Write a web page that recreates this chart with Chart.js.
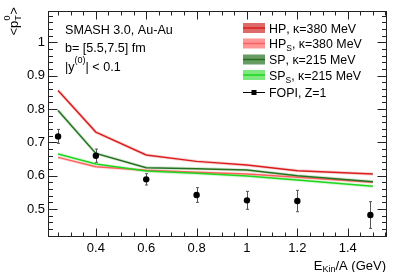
<!DOCTYPE html>
<html><head><meta charset="utf-8">
<script src="https://cdn.jsdelivr.net/npm/chart.js@4"></script>
<style>html,body{margin:0;padding:0;background:#fff;overflow:hidden}</style>
</head><body>
<div style="width:399px;height:272px;position:relative"><canvas id="c" width="399" height="272"></canvas></div>
<script>
const energies = [0.25, 0.4, 0.6, 0.8, 1.0, 1.2, 1.5];
const hp  = [0.856, 0.731, 0.662, 0.643, 0.632, 0.615, 0.605];
const hpS = [0.655, 0.627, 0.616, 0.610, 0.605, 0.595, 0.580];
const sp  = [0.796, 0.667, 0.624, 0.621, 0.617, 0.600, 0.582];
const spS = [0.665, 0.635, 0.614, 0.607, 0.599, 0.587, 0.568];
const fopiE   = [0.25, 0.4, 0.6, 0.8, 1.0, 1.2, 1.49];
const fopiPt  = [0.718, 0.660, 0.589, 0.542, 0.526, 0.524, 0.482];
const fopiErr = [0.021, 0.020, 0.017, 0.022, 0.027, 0.032, 0.040];
const xTicks = [0.4, 0.6, 0.8, 1.0, 1.2, 1.4];
const xTickLabels = ['0.4', '0.6', '0.8', '1', '1.2', '1.4'];
const yTicks = [0.5, 0.6, 0.7, 0.8, 0.9, 1.0];
const yTickLabels = ['0.5', '0.6', '0.7', '0.8', '0.9', '1'];
const legendNames = [['HP', '', ', \u03ba=380 MeV'], ['HP', 'S', ', \u03ba=380 MeV'], ['SP', '', ', \u03ba=215 MeV'], ['SP', 'S', ', \u03ba=215 MeV'], ['FOPI, Z=1', '', '']];

const FONT = '"Liberation Sans", Arial, Helvetica, sans-serif';
const lineCols = ['rgb(218,30,30)', 'rgb(255,95,95)', 'rgb(35,115,30)', 'rgb(30,215,30)'];
const haloCols = ['rgba(218,30,30,0.18)', 'rgba(255,95,95,0.18)', 'rgba(35,115,30,0.18)', 'rgba(30,215,30,0.18)'];
const boxCols = ['rgb(222,105,105)', 'rgb(255,150,150)', 'rgb(105,155,100)', 'rgb(125,232,125)'];
const series = [hp, hpS, sp, spS];

const pts = arr => arr.map((v, i) => ({x: energies[i], y: v}));
const datasets = [];
series.forEach((s, i) => {
  datasets.push({data: pts(s), borderColor: haloCols[i], borderWidth: 3.2, pointRadius: 0, fill: false, tension: 0, order: 10 + (4 - i)});
});
series.forEach((s, i) => {
  datasets.push({data: pts(s), borderColor: lineCols[i], borderWidth: 1.5, pointRadius: 0, fill: false, tension: 0, order: 5 + (4 - i)});
});
datasets.push({data: fopiE.map((e, i) => ({x: e, y: fopiPt[i]})), showLine: false, pointStyle: 'circle', pointRadius: 3.2, backgroundColor: '#000', borderColor: '#000', borderWidth: 0, order: 0});

const deco = {
  id: 'deco',
  beforeDatasetsDraw(chart) {
    const ctx = chart.ctx, xs = chart.scales.x, ys = chart.scales.y;
    ctx.save();
    ctx.strokeStyle = '#555'; ctx.lineWidth = 1;
    fopiE.forEach((e, i) => {
      const px = Math.round(xs.getPixelForValue(e)) + 0.5;
      const y1 = ys.getPixelForValue(fopiPt[i] + fopiErr[i]);
      const y2 = ys.getPixelForValue(fopiPt[i] - fopiErr[i]);
      ctx.beginPath(); ctx.moveTo(px, y1); ctx.lineTo(px, y2);
      ctx.moveTo(px - 1.5, y1); ctx.lineTo(px + 1.5, y1);
      ctx.moveTo(px - 1.5, y2); ctx.lineTo(px + 1.5, y2);
      ctx.stroke();
    });
    ctx.restore();
  },
  afterDraw(chart) {
    const ctx = chart.ctx, xs = chart.scales.x, ys = chart.scales.y, a = chart.chartArea;
    ctx.save();
    ctx.strokeStyle = '#222'; ctx.lineWidth = 1;
    const L = Math.round(a.left) + 0.5, R = Math.round(a.right) + 0.5, T = Math.round(a.top) + 0.5, B = Math.round(a.bottom) + 0.5;
    ctx.strokeRect(L, T, R - L, B - T);
    ctx.beginPath();
    for (let k = 0; k <= 30; k++) {
      const v = 0.20 + k * 0.05;
      if (v < xs.min - 1e-9 || v > xs.max + 1e-9) continue;
      const major = Math.abs(v * 5 - Math.round(v * 5)) < 1e-6;
      const len = major ? 8 : 4;
      const px = Math.round(xs.getPixelForValue(v)) + 0.5;
      ctx.moveTo(px, B); ctx.lineTo(px, B - len);
      ctx.moveTo(px, T); ctx.lineTo(px, T + len);
    }
    for (let k = 0; k <= 40; k++) {
      const v = 0.40 + k * 0.02;
      if (v < ys.min - 1e-9 || v > ys.max + 1e-9) continue;
      const major = Math.abs(v * 10 - Math.round(v * 10)) < 1e-6;
      const len = major ? 9 : 4.5;
      const py = Math.round(ys.getPixelForValue(v)) + 0.5;
      ctx.moveTo(L, py); ctx.lineTo(L + len, py);
      ctx.moveTo(R, py); ctx.lineTo(R - len, py);
    }
    ctx.stroke();

    ctx.fillStyle = '#000';
    ctx.textBaseline = 'alphabetic';
    ctx.font = '12.6px ' + FONT;
    ctx.fillText('SMASH 3.0, Au-Au', 65, 33.5);
    ctx.fillText('b= [5.5,7.5] fm', 65, 51.5);
    let x = 65;
    ctx.fillText('|y', x, 71); x += ctx.measureText('|y').width;
    ctx.font = '9px ' + FONT; ctx.fillText('(0)', x, 63); x += ctx.measureText('(0)').width;
    ctx.font = '12.6px ' + FONT; ctx.fillText('| < 0.1', x, 71);

    const ly = [28, 43.5, 59.5, 75, 92];
    for (let i = 0; i < 5; i++) {
      const y = ly[i];
      if (i < 4) {
        ctx.fillStyle = boxCols[i];
        ctx.fillRect(243, y - 5, 22, 10);
        ctx.strokeStyle = lineCols[i]; ctx.lineWidth = 1.5;
        ctx.beginPath(); ctx.moveTo(243, y); ctx.lineTo(265, y); ctx.stroke();
      } else {
        ctx.strokeStyle = '#000'; ctx.lineWidth = 1;
        ctx.beginPath(); ctx.moveTo(243, y + 0.5); ctx.lineTo(265, y + 0.5); ctx.stroke();
        ctx.fillStyle = '#000'; ctx.fillRect(251.5, y - 2, 5, 5);
      }
      ctx.fillStyle = '#000';
      let tx = 269;
      const n = legendNames[i];
      ctx.font = '12.4px ' + FONT; ctx.fillText(n[0], tx, y + 4.5); tx += ctx.measureText(n[0]).width;
      if (n[1]) { ctx.font = '8.5px ' + FONT; ctx.fillText(n[1], tx, y + 7.5); tx += ctx.measureText(n[1]).width; }
      ctx.font = '12.4px ' + FONT; ctx.fillText(n[2], tx, y + 4.5);
    }

    const main1 = 'E', sub = 'Kin', main2 = '/A (GeV)';
    ctx.font = '13px ' + FONT; const w1 = ctx.measureText(main1).width, w3 = ctx.measureText(main2).width;
    ctx.font = '9px ' + FONT; const w2 = ctx.measureText(sub).width;
    let xx = 386 - (w1 + w2 + w3);
    ctx.font = '13px ' + FONT; ctx.fillText(main1, xx, 269.5); xx += w1;
    ctx.font = '9px ' + FONT; ctx.fillText(sub, xx, 272); xx += w2;
    ctx.font = '13px ' + FONT; ctx.fillText(main2, xx, 269.5);

    ctx.save();
    ctx.translate(17.5, 35.5);
    ctx.rotate(-Math.PI / 2);
    let t = 0;
    ctx.font = '13px ' + FONT; ctx.fillText('<p', t, 0); t += ctx.measureText('<p').width;
    ctx.font = '9px ' + FONT;
    ctx.fillText('0', t + 0.3, -7.5);
    ctx.fillText('T', t, 3.5);
    t += Math.max(ctx.measureText('0').width, ctx.measureText('T').width) + 0.5;
    ctx.font = '13px ' + FONT; ctx.fillText('>', t, 0);
    ctx.restore();

    ctx.restore();
  }
};

new Chart(document.getElementById('c'), {
  type: 'line',
  data: {datasets},
  options: {
    responsive: false,
    animation: false,
    devicePixelRatio: 1,
    layout: {padding: {left: 0, right: 13, top: 10, bottom: 0}},
    plugins: {legend: {display: false}, tooltip: {enabled: false}},
    scales: {
      x: {
        type: 'linear', min: 0.21, max: 1.552,
        border: {display: false},
        grid: {display: false, drawTicks: false},
        afterBuildTicks: s => { s.ticks = xTicks.map(v => ({value: v})); },
        afterFit: s => { s.height = 36; },
        ticks: {padding: 5, autoSkip: false, maxRotation: 0, color: '#000', font: {family: FONT, size: 13},
          callback: (v) => { const i = xTicks.findIndex(t => Math.abs(t - v) < 1e-6); return i >= 0 ? xTickLabels[i] : ''; }}
      },
      y: {
        type: 'linear', min: 0.419, max: 1.095,
        border: {display: false},
        grid: {display: false, drawTicks: false},
        afterBuildTicks: s => { s.ticks = yTicks.map(v => ({value: v})); },
        afterFit: s => { s.width = 48; },
        ticks: {padding: 3, autoSkip: false, color: '#000', font: {family: FONT, size: 13},
          callback: (v) => { const i = yTicks.findIndex(t => Math.abs(t - v) < 1e-6); return i >= 0 ? yTickLabels[i] : ''; }}
      }
    }
  },
  plugins: [deco]
});
</script>
</body></html>
